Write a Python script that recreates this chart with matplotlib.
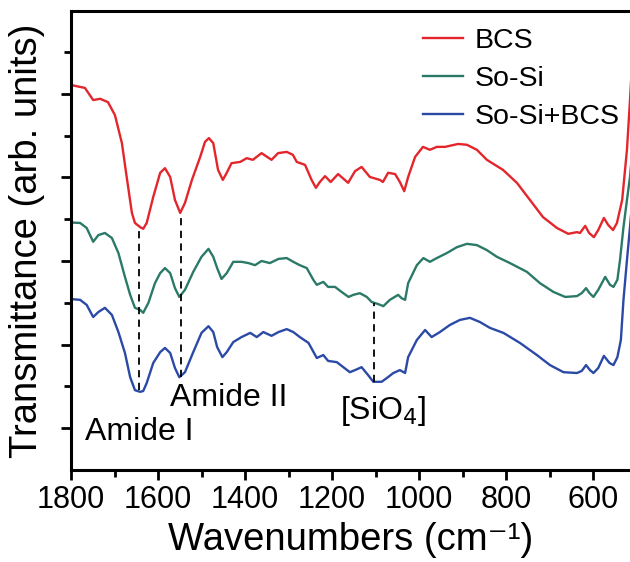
import numpy as np
import matplotlib
matplotlib.use("Agg")
import matplotlib.pyplot as plt
from matplotlib.ticker import MultipleLocator

plt.rcParams['font.family'] = ['Liberation Sans', 'DejaVu Sans']

# FTIR spectra (wavenumber in cm-1, transmittance in arb. units)
bcs_wn = [1800, 1768, 1749, 1733, 1715, 1699, 1683, 1672, 1660, 1653, 1641, 1634, 1626,
          1611, 1595, 1584, 1572, 1561, 1549, 1538, 1522, 1503, 1492, 1483, 1473, 1462,
          1451, 1442, 1431, 1411, 1396, 1382, 1362, 1339, 1324, 1304, 1290, 1281, 1262,
          1247, 1237, 1228, 1216, 1203, 1186, 1163, 1147, 1132, 1113, 1090, 1083, 1071,
          1055, 1044, 1034, 1025, 1009, 991, 975, 959, 940, 910, 890, 867, 844, 807, 775,
          745, 715, 683, 657, 637, 630, 618, 609, 598, 588, 575, 565, 554, 545, 533, 522,
          515, 510]
bcs_t = [9.21, 9.14, 8.85, 8.88, 8.80, 8.49, 7.82, 7.01, 6.15, 5.91, 5.81, 5.77, 5.91,
         6.53, 7.11, 7.22, 7.01, 6.46, 6.15, 6.39, 6.94, 7.49, 7.85, 7.94, 7.82, 7.18,
         6.94, 7.11, 7.34, 7.37, 7.46, 7.42, 7.58, 7.42, 7.58, 7.61, 7.54, 7.37, 7.30,
         6.94, 6.75, 6.89, 7.03, 6.89, 7.08, 6.87, 7.15, 7.25, 7.01, 6.94, 6.89, 7.11,
         7.08, 6.89, 6.67, 7.01, 7.49, 7.73, 7.66, 7.73, 7.73, 7.80, 7.78, 7.66, 7.42,
         7.18, 6.87, 6.46, 6.05, 5.79, 5.65, 5.69, 5.67, 5.84, 5.67, 5.57, 5.74, 6.03,
         5.86, 5.74, 5.91, 6.46, 7.66, 8.85, 9.8]

sosi_wn = [1800, 1779, 1764, 1749, 1737, 1722, 1706, 1691, 1676, 1664, 1653, 1641, 1634,
           1622, 1607, 1595, 1584, 1572, 1561, 1551, 1538, 1519, 1500, 1484, 1473, 1464,
           1454, 1442, 1427, 1408, 1392, 1377, 1362, 1343, 1323, 1304, 1289, 1274, 1258,
           1243, 1235, 1220, 1209, 1193, 1178, 1162, 1151, 1136, 1120, 1109, 1094, 1082,
           1067, 1048, 1040, 1032, 1025, 1005, 990, 975, 959, 936, 913, 890, 867, 844,
           821, 791, 752, 722, 691, 664, 637, 626, 616, 608, 599, 588, 572, 561, 553, 544,
           538, 530, 522, 515, 510]
sosi_t = [5.92, 5.91, 5.79, 5.46, 5.62, 5.67, 5.55, 5.19, 4.62, 4.19, 3.88, 3.83, 3.76,
          4.00, 4.47, 4.71, 4.83, 4.71, 4.35, 4.14, 4.31, 4.74, 5.10, 5.29, 5.10, 4.83,
          4.57, 4.71, 4.98, 4.98, 4.95, 4.90, 5.00, 4.95, 5.05, 5.07, 4.98, 4.90, 4.83,
          4.55, 4.43, 4.50, 4.38, 4.38, 4.26, 4.14, 4.19, 4.23, 4.14, 4.02, 3.97, 3.92,
          4.07, 4.19, 4.11, 4.07, 4.47, 4.90, 5.07, 4.98, 5.07, 5.19, 5.33, 5.41, 5.38,
          5.26, 5.10, 4.95, 4.74, 4.47, 4.26, 4.14, 4.16, 4.23, 4.35, 4.23, 4.14, 4.31,
          4.62, 4.43, 4.38, 4.55, 5.02, 5.81, 6.46, 7.01, 7.6]

mix_wn = [1800, 1779, 1764, 1749, 1737, 1722, 1706, 1691, 1676, 1664, 1653, 1641, 1634,
          1626, 1611, 1595, 1584, 1572, 1561, 1551, 1538, 1519, 1500, 1484, 1473, 1464,
          1452, 1442, 1427, 1408, 1388, 1373, 1358, 1339, 1323, 1304, 1289, 1274, 1254,
          1235, 1220, 1209, 1189, 1174, 1159, 1147, 1132, 1117, 1105, 1086, 1074, 1059,
          1044, 1032, 1025, 1005, 986, 971, 952, 929, 906, 883, 860, 837, 806, 768, 729,
          699, 668, 637, 626, 616, 607, 599, 588, 575, 562, 553, 544, 536, 530, 522, 515,
          510]
mix_t = [4.09, 4.07, 3.95, 3.66, 3.78, 3.88, 3.71, 3.30, 2.80, 2.22, 1.91, 1.87, 1.89,
         2.08, 2.56, 2.82, 2.92, 2.80, 2.44, 2.22, 2.34, 2.82, 3.28, 3.44, 3.30, 2.94,
         2.70, 2.82, 3.06, 3.18, 3.28, 3.18, 3.30, 3.21, 3.30, 3.37, 3.30, 3.18, 3.04,
         2.68, 2.75, 2.61, 2.58, 2.46, 2.34, 2.39, 2.46, 2.27, 2.11, 2.11, 2.20, 2.32,
         2.39, 2.32, 2.70, 3.11, 3.35, 3.18, 3.30, 3.47, 3.59, 3.64, 3.54, 3.40, 3.28,
         3.04, 2.75, 2.51, 2.34, 2.32, 2.37, 2.51, 2.39, 2.32, 2.44, 2.73, 2.56, 2.51,
         2.70, 3.11, 4.07, 5.02, 5.81, 6.4]

labels = ['BCS', 'So-Si', 'So-Si+BCS']
colors = ['#e3262c', '#2b7a68', '#2b4aa6']

# band markers: position, top, bottom
band_pos = [1644, 1548, 1103]
band_top = [5.79, 6.15, 4.00]
band_bot = [1.91, 2.22, 2.11]

fig = plt.figure(figsize=(6.3, 5.62), dpi=100)
ax = fig.add_axes([0.1127, 0.1637, 0.8873, 0.8167])

for wn, t, lab, c in zip([bcs_wn, sosi_wn, mix_wn], [bcs_t, sosi_t, mix_t], labels, colors):
    ax.plot(wn, t, color=c, lw=1.7, label=lab)

for p, top, bot in zip(band_pos, band_top, band_bot):
    ax.plot([p, p], [bot, top], color='black', lw=1.3, ls=(0, (4, 3)))

ax.text(1768, 0.91, 'Amide I', fontsize=23, ha='left', va='center')
ax.text(1572, 1.72, 'Amide II', fontsize=23, ha='left', va='center')
ax.text(1182, 1.40, r'[SiO$_4$]', fontsize=23, ha='left', va='center')

ax.set_xlim(1800, 515)
ax.set_ylim(0, 10.98)
ax.xaxis.set_major_locator(MultipleLocator(200))
ax.xaxis.set_minor_locator(MultipleLocator(100))
ax.set_yticks([1, 3, 5, 7, 9])
ax.set_yticks([2, 4, 6, 8, 10], minor=True)
ax.set_yticklabels([])
ax.tick_params(which='major', direction='out', length=7, width=2, labelsize=22)
ax.tick_params(which='minor', direction='out', length=5, width=2)
ax.tick_params(axis='x', pad=4)

for s in ['left', 'bottom', 'top']:
    ax.spines[s].set_linewidth(2.2)
ax.spines['right'].set_visible(False)

ax.set_xlabel('Wavenumbers (cm⁻¹)', fontsize=27.5, labelpad=5)
ax.set_ylabel('Transmittance (arb. units)', fontsize=27.5, labelpad=8)

ax.legend(loc='upper right', frameon=False, fontsize=20.5, handlelength=1.4,
          handletextpad=0.4, labelspacing=0.42, borderaxespad=0.3,
          bbox_to_anchor=(1.017, 1.007))

fig.savefig('out.png', dpi=100)
